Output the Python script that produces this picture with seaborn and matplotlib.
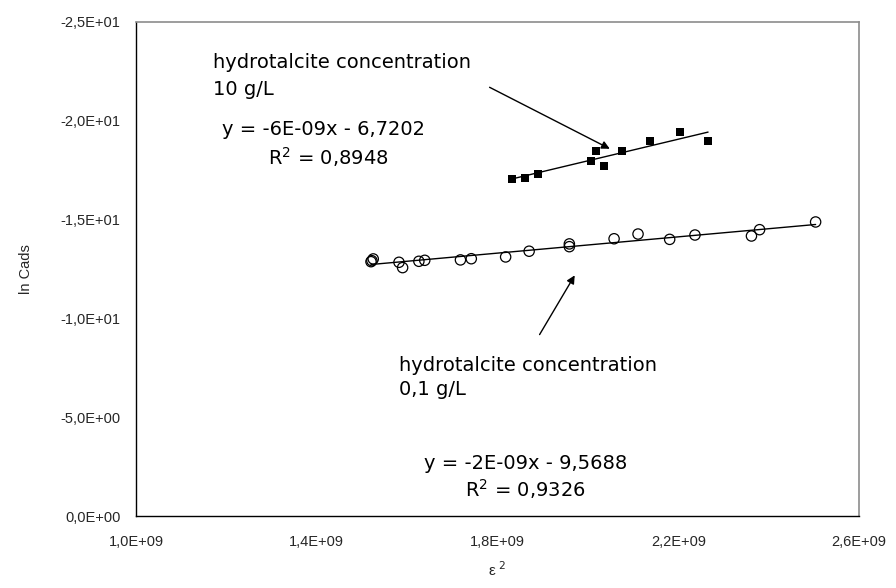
#___________________________________________________________________________________________________________________________________________
# Required Modules
import matplotlib
matplotlib.use("Agg")
import matplotlib.pyplot as plt
import seaborn as sns
from matplotlib.ticker import FuncFormatter
#___________________________________________________________________________________________________________________________________________
# Data (x = epsilon^2, y = ln Cads)
eps_10 = [1.832e9, 1.861e9, 1.889e9, 2.007e9, 2.018e9, 2.036e9, 2.076e9, 2.138e9, 2.204e9, 2.266e9]
lnc_10 = [-17.06, -17.12, -17.32, -17.98, -18.47, -17.73, -18.47, -18.98, -19.43, -18.98]

eps_01 = [1.520e9, 1.525e9, 1.522e9, 1.582e9, 1.590e9, 1.626e9, 1.639e9, 1.718e9, 1.742e9, 1.818e9,
          1.870e9, 1.959e9, 1.959e9, 2.058e9, 2.111e9, 2.181e9, 2.237e9, 2.362e9, 2.380e9, 2.504e9]
lnc_01 = [-12.87, -13.01, -12.92, -12.84, -12.57, -12.89, -12.94, -12.96, -13.02, -13.11,
          -13.40, -13.77, -13.63, -14.03, -14.27, -14.00, -14.22, -14.17, -14.49, -14.88]

x_ticks = [1.0e9, 1.4e9, 1.8e9, 2.2e9, 2.6e9]
y_ticks = [0, -5, -10, -15, -20, -25]
#___________________________________________________________________________________________________________________________________________
# PLOTTING
sns.set_style("white")
plt.rcParams['font.family'] = ['Liberation Sans', 'DejaVu Sans']

fig = plt.figure(figsize=(8.96, 5.88), dpi=100)
ax = fig.add_axes([136 / 896, 1 - 516 / 588, (859 - 136) / 896, (516 - 22) / 588])

# 10 g/L : filled squares + linear trendline
sns.regplot(x=eps_10, y=lnc_10, ax=ax, ci=None, color='black', marker='s',
            scatter_kws={'s': 32, 'alpha': 1, 'linewidths': 0},
            line_kws={'lw': 1, 'color': 'black'})
# 0,1 g/L : open circles + linear trendline
sns.regplot(x=eps_01, y=lnc_01, ax=ax, ci=None, color='black', marker='o',
            scatter_kws={'s': 55, 'alpha': 1, 'facecolors': 'none', 'edgecolors': 'black', 'linewidths': 0.9},
            line_kws={'lw': 1, 'color': 'black'})

ax.set_xlim(1.0e9, 2.6e9)
ax.set_ylim(0, -25)
ax.set_xticks(x_ticks)
ax.set_yticks(y_ticks)
fmt = FuncFormatter(lambda v, p: f"{v:.1E}".replace('.', ','))
ax.xaxis.set_major_formatter(fmt)
ax.yaxis.set_major_formatter(fmt)
ax.tick_params(axis='both', direction='out', length=5, width=1, color='black', labelsize=10.5, pad=6)
ax.tick_params(axis='x', pad=9)

for side in ['left', 'bottom']:
    ax.spines[side].set_color('black')
    ax.spines[side].set_linewidth(1)
for side in ['top', 'right']:
    ax.spines[side].set_color('#8c8c8c')
    ax.spines[side].set_linewidth(1.2)

ax.set_ylabel('ln Cads', fontsize=10.5, labelpad=20)
ax.set_xlabel(r'ε$^{\ 2}$', fontsize=11, labelpad=8)

# Annotations
txt = dict(fontsize=14, family='DejaVu Sans', color='black')
ax.text(1.170e9, -22.93, 'hydrotalcite concentration', ha='left', va='center', **txt)
ax.text(1.170e9, -21.56, '10 g/L', ha='left', va='center', **txt)
ax.text(1.190e9, -19.54, 'y = -6E-09x - 6,7202', ha='left', va='center', **txt)
ax.text(1.425e9, -18.17, r'R$^2$ = 0,8948', ha='center', va='center', **txt)

ax.text(1.582e9, -7.64, 'hydrotalcite concentration', ha='left', va='center', **txt)
ax.text(1.582e9, -6.38, '0,1 g/L', ha='left', va='center', **txt)
ax.text(1.862e9, -2.65, 'y = -2E-09x - 9,5688', ha='center', va='center', **txt)
ax.text(1.862e9, -1.35, r'R$^2$ = 0,9326', ha='center', va='center', **txt)

arrow = dict(arrowstyle='-|>', color='black', lw=1, mutation_scale=12)
ax.annotate('', xy=(2.054e9, -18.52), xytext=(1.777e9, -21.76), arrowprops=arrow)
ax.annotate('', xy=(1.974e9, -12.30), xytext=(1.890e9, -9.06), arrowprops=arrow)

fig.savefig('out.png', dpi=100)
